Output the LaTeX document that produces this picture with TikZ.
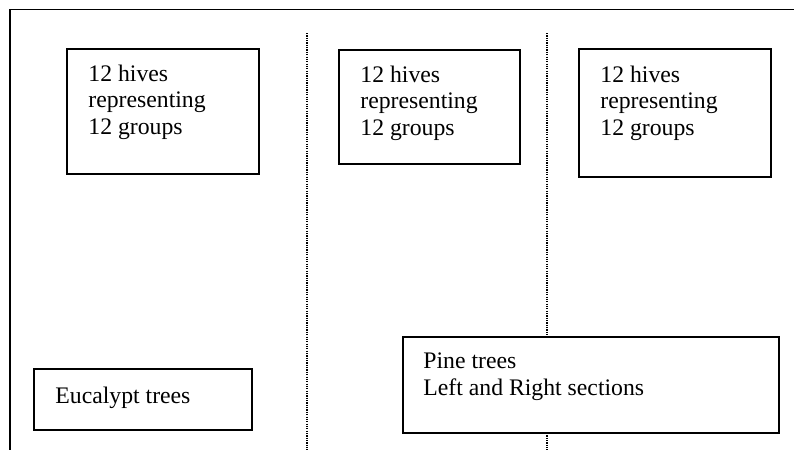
\documentclass[tikz,border=0pt]{standalone}
\usepackage{fontspec}
\setmainfont{Liberation Serif}
\usetikzlibrary{positioning}

\tikzset{
    sitetext/.style = {anchor = base west, align = left, inner sep = 0},
    sectionline/.style = {line width = 0.75, dash pattern = on 0.6pt off 0.6pt}
}

\begin{document}
\begin{tikzpicture}[x = 0.51pt, y = -0.51pt, font = \fontsize{12.1}{13.3}\selectfont]
    \useasboundingbox (0,0) rectangle (794,450);

    % outer frame
    \draw [line width = 1] (794,9.5) -- (10,9.5) -- (10,450);

    % section dividers
    \draw [sectionline] (307,33) -- (307,450);
    \draw [sectionline] (547,33) -- (547,450);

    % hive boxes
    \path [draw = black, fill = white, line width = 1] (67,49)  rectangle (259,174);
    \path [draw = black, fill = white, line width = 1] (339,50) rectangle (520,164);
    \path [draw = black, fill = white, line width = 1] (579,49) rectangle (771,177);

    % tree boxes
    \path [draw = black, fill = white, line width = 1] (34,369)  rectangle (252,430);
    \path [draw = black, fill = white, line width = 1] (403,337) rectangle (779,433);

    % base anchor sits on the last line
    \node [sitetext] (hivesleft)   at (88,134)  {12 hives\\representing\\12 groups};
    \node [sitetext] (hivesmiddle) at (360,135) {12 hives\\representing\\12 groups};
    \node [sitetext] (hivesright)  at (600,135) {12 hives\\representing\\12 groups};

    \node [sitetext] (eucalypt) at (55,403)  {Eucalypt trees};
    \node [sitetext] (pine)     at (423,395) {Pine trees\\Left and Right sections};
\end{tikzpicture}
\end{document}
